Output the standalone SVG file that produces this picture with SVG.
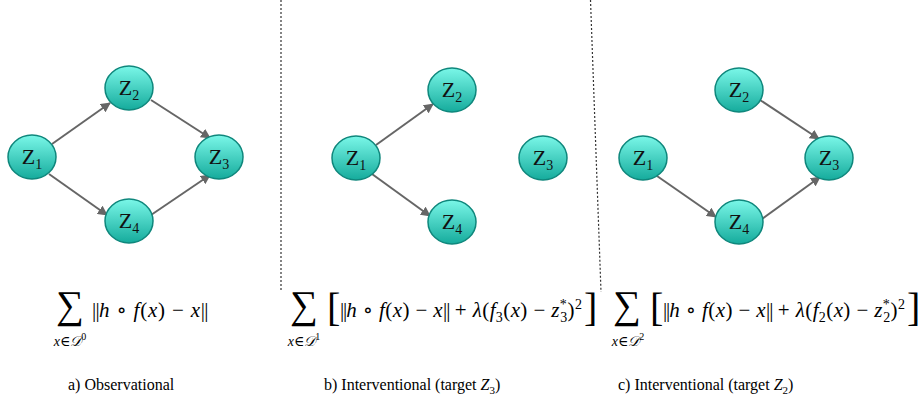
<svg xmlns="http://www.w3.org/2000/svg" width="919" height="404" viewBox="0 0 919 404">
<style>
.node ellipse{fill:url(#g);stroke:#0f877c;stroke-width:1.5}
.node text{font-family:"Liberation Serif","DejaVu Serif",serif;font-size:22px;fill:#111;text-anchor:middle}
.sub{font-size:14px}
.edge{stroke:#666;stroke-width:2;fill:none;marker-end:url(#ah)}
.div{stroke:#333;stroke-width:1.2;stroke-dasharray:2 2;fill:none}
.m{font-family:"Liberation Serif","DejaVu Serif",serif;font-size:21px;fill:#000}
.i{font-style:italic}
.sm{font-size:14px}
.nb{letter-spacing:-1.5px}
.cap{font-family:"Liberation Serif","DejaVu Serif",serif;font-size:16px;fill:#000}
.big{font-family:"Liberation Serif","DejaVu Serif",serif;fill:#000}
.ix{font-family:"Liberation Serif","DejaVu Serif",serif;font-size:14px;fill:#000;text-anchor:middle}
</style>
<defs>
<linearGradient id="g" x1="0" y1="0" x2="0" y2="1">
<stop offset="0" stop-color="#7af7e8"/>
<stop offset="1" stop-color="#15ab9c"/>
</linearGradient>
<marker id="ah" viewBox="0 0 10 10" refX="9" refY="5" markerWidth="5" markerHeight="5" orient="auto" markerUnits="strokeWidth">
<path d="M0,0 L10,5 L0,10 z" fill="#666"/>
</marker>
</defs>

<g id="dividers">
<line class="div" x1="281" y1="0" x2="281" y2="290"/>
<line class="div" x1="590.5" y1="0" x2="601" y2="292"/>
</g>

<g id="connectors">
<line class="edge" x1="52" y1="144" x2="110" y2="103"/>
<line class="edge" x1="151" y1="100" x2="210" y2="138"/>
<line class="edge" x1="49" y1="174" x2="107" y2="215"/>
<line class="edge" x1="151" y1="215" x2="210" y2="175"/>
<line class="edge" x1="376" y1="145" x2="433" y2="104"/>
<line class="edge" x1="372" y1="174" x2="430" y2="216"/>
<line class="edge" x1="760" y1="100" x2="819" y2="139"/>
<line class="edge" x1="657" y1="176" x2="716" y2="217"/>
<line class="edge" x1="762" y1="219" x2="820" y2="177"/>
</g>

<g id="a-Z1" class="node"><ellipse cx="32" cy="157" rx="24" ry="22"/><text x="32" y="164">Z<tspan class="sub" dy="5">1</tspan></text></g>
<g id="a-Z2" class="node"><ellipse cx="129" cy="88" rx="24" ry="22"/><text x="129" y="95">Z<tspan class="sub" dy="5">2</tspan></text></g>
<g id="a-Z3" class="node"><ellipse cx="219" cy="157" rx="24" ry="22"/><text x="219" y="164">Z<tspan class="sub" dy="5">3</tspan></text></g>
<g id="a-Z4" class="node"><ellipse cx="129" cy="221" rx="24" ry="22"/><text x="129" y="228">Z<tspan class="sub" dy="5">4</tspan></text></g>

<g id="b-Z1" class="node"><ellipse cx="356" cy="158" rx="24" ry="22"/><text x="356" y="165">Z<tspan class="sub" dy="5">1</tspan></text></g>
<g id="b-Z2" class="node"><ellipse cx="452" cy="90" rx="24" ry="22"/><text x="452" y="97">Z<tspan class="sub" dy="5">2</tspan></text></g>
<g id="b-Z3" class="node"><ellipse cx="543" cy="158" rx="24" ry="22"/><text x="543" y="165">Z<tspan class="sub" dy="5">3</tspan></text></g>
<g id="b-Z4" class="node"><ellipse cx="452" cy="222" rx="24" ry="22"/><text x="452" y="229">Z<tspan class="sub" dy="5">4</tspan></text></g>

<g id="c-Z1" class="node"><ellipse cx="643" cy="158" rx="24" ry="22"/><text x="643" y="165">Z<tspan class="sub" dy="5">1</tspan></text></g>
<g id="c-Z2" class="node"><ellipse cx="739" cy="90" rx="24" ry="22"/><text x="739" y="97">Z<tspan class="sub" dy="5">2</tspan></text></g>
<g id="c-Z3" class="node"><ellipse cx="829" cy="158" rx="24" ry="22"/><text x="829" y="165">Z<tspan class="sub" dy="5">3</tspan></text></g>
<g id="c-Z4" class="node"><ellipse cx="739" cy="222" rx="24" ry="22"/><text x="739" y="229">Z<tspan class="sub" dy="5">4</tspan></text></g>

<g id="formula-a">
<text class="big" x="56" y="318" font-size="39">∑</text>
<text class="ix" x="70" y="346"><tspan class="i">x</tspan>∈<tspan class="i">𝒟</tspan><tspan dy="-6" font-size="10">0</tspan></text>
<text class="m" x="92" y="317" textLength="115" lengthAdjust="spacing"><tspan class="nb">||</tspan><tspan class="i">h</tspan> ∘ <tspan class="i">f</tspan>(<tspan class="i">x</tspan>) − <tspan class="i">x</tspan><tspan class="nb">||</tspan></text>
</g>

<g id="formula-b">
<text class="big" x="290" y="318" font-size="39">∑</text>
<text class="ix" x="304" y="346"><tspan class="i">x</tspan>∈<tspan class="i">𝒟</tspan><tspan dy="-6" font-size="10">1</tspan></text>
<text class="big" x="327" y="321" font-size="40">[</text>
<text class="m" x="340" y="317" textLength="242" lengthAdjust="spacing"><tspan class="nb">||</tspan><tspan class="i">h</tspan> ∘ <tspan class="i">f</tspan>(<tspan class="i">x</tspan>) − <tspan class="i">x</tspan><tspan class="nb">||</tspan> + <tspan class="i">λ</tspan>(<tspan class="i">f</tspan><tspan class="sm" dy="5">3</tspan><tspan dy="-5">(</tspan><tspan class="i">x</tspan>) − <tspan class="i">z</tspan><tspan class="sm" dy="-8">*</tspan><tspan class="sm" dx="-7" dy="13">3</tspan><tspan dy="-5">)</tspan><tspan class="sm" dy="-8">2</tspan></text>
<text class="big" x="584" y="321" font-size="40">]</text>
</g>

<g id="formula-c">
<text class="big" x="613" y="318" font-size="39">∑</text>
<text class="ix" x="628" y="346"><tspan class="i">x</tspan>∈<tspan class="i">𝒟</tspan><tspan dy="-6" font-size="10">2</tspan></text>
<text class="big" x="650" y="321" font-size="40">[</text>
<text class="m" x="663" y="317" textLength="242" lengthAdjust="spacing"><tspan class="nb">||</tspan><tspan class="i">h</tspan> ∘ <tspan class="i">f</tspan>(<tspan class="i">x</tspan>) − <tspan class="i">x</tspan><tspan class="nb">||</tspan> + <tspan class="i">λ</tspan>(<tspan class="i">f</tspan><tspan class="sm" dy="5">2</tspan><tspan dy="-5">(</tspan><tspan class="i">x</tspan>) − <tspan class="i">z</tspan><tspan class="sm" dy="-8">*</tspan><tspan class="sm" dx="-7" dy="13">2</tspan><tspan dy="-5">)</tspan><tspan class="sm" dy="-8">2</tspan></text>
<text class="big" x="907" y="321" font-size="40">]</text>
</g>

<g id="captions">
<text class="cap" x="68" y="390">a) Observational</text>
<text class="cap" x="324" y="390">b) Interventional (target <tspan class="i">Z</tspan><tspan font-size="11" dy="4">3</tspan><tspan dy="-4">)</tspan></text>
<text class="cap" x="618" y="390">c) Interventional (target <tspan class="i">Z</tspan><tspan font-size="11" dy="4">2</tspan><tspan dy="-4">)</tspan></text>
</g>
</svg>
